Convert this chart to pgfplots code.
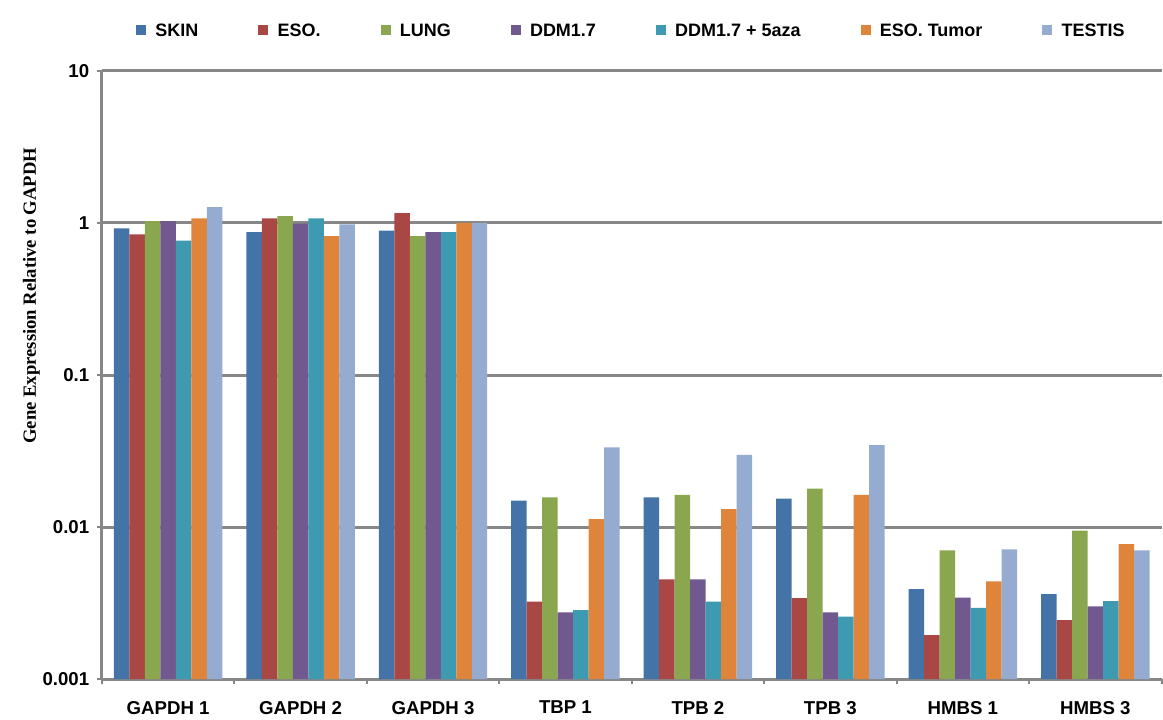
\documentclass[border=0pt]{standalone}
\usepackage{fontspec}
\setmainfont{Liberation Sans}
\newfontfamily\timesfont{Liberation Serif}
\usepackage{pgfplots}
\usepackage{pgfplotstable}
\pgfplotsset{compat=1.18}

\definecolor{skin}{HTML}{4473A7}
\definecolor{eso}{HTML}{A94744}
\definecolor{lung}{HTML}{8AA64F}
\definecolor{ddm}{HTML}{71598F}
\definecolor{aza}{HTML}{3E9AB1}
\definecolor{tumor}{HTML}{DF843B}
\definecolor{testis}{HTML}{95ABCF}
\definecolor{axisgray}{HTML}{878787}

% relative expression, one row per primer set
\pgfplotstableread{
x skin eso lung ddm aza tumor testis
0 0.92 0.84 1.03 1.03 0.765 1.07 1.27
1 0.87 1.07 1.11 0.99 1.07 0.82 0.98
2 0.89 1.16 0.82 0.87 0.87 1.00 1.00
3 0.0149 0.00324 0.0157 0.00275 0.00284 0.0113 0.0334
4 0.0157 0.00453 0.0163 0.00453 0.00324 0.0131 0.0299
5 0.0154 0.00341 0.0179 0.00275 0.00258 0.0163 0.0346
6 0.00391 0.00195 0.00703 0.00343 0.00294 0.00440 0.00713
7 0.00362 0.00244 0.00946 0.00301 0.00326 0.00773 0.00703
}\data

\pgfplotsset{
  sq/.style={fill=#1, draw=none,
    legend image code/.code={\fill[##1] (0pt,-3.2pt) rectangle (7.5pt,4.3pt);}},
}

\begin{document}
\begin{tikzpicture}
\begin{axis}[
  scale only axis,
  width=795.75pt, height=456.75pt,
  ymode=log, ymin=0.001, ymax=10, log origin y=infty,
  xmin=-0.5, xmax=7.5,
  ybar=0pt, bar width=0.117,
  xtick={-0.5,0.5,...,7.5},
  x tick label as interval,
  xticklabels={GAPDH 1,GAPDH 2,GAPDH 3,TBP 1,TPB 2,TPB 3,HMBS 1,HMBS 3},
  ytick={0.001,0.01,0.1,1,10},
  yticklabels={0.001,0.01,0.1,1,10},
  yminorticks=false,
  axis x line*=bottom, axis y line*=left,
  axis line style={-, axisgray, line width=2.25pt},
  tick align=outside, major tick length=4pt,
  tick style={axisgray, line width=1.5pt},
  ymajorgrids,
  major grid style={axisgray, line width=2.25pt},
  ticklabel style={font=\bfseries\fontsize{14}{14}\selectfont},
  xticklabel style={yshift=-9pt},
  yticklabel style={xshift=-2pt},
  legend columns=7,
  legend style={draw=none, fill=none, at={(0.5,1)}, anchor=center, yshift=30pt,
    font=\bfseries\fontsize{13.5}{14}\selectfont,
    /tikz/every odd column/.append style={column sep=5pt},
    /tikz/every even column/.append style={column sep=43pt}},
]
\addplot[sq=skin] table[x=x, y=skin] {\data};
\addplot[sq=eso] table[x=x, y=eso] {\data};
\addplot[sq=lung] table[x=x, y=lung] {\data};
\addplot[sq=ddm] table[x=x, y=ddm] {\data};
\addplot[sq=aza] table[x=x, y=aza] {\data};
\addplot[sq=tumor] table[x=x, y=tumor] {\data};
\addplot[sq=testis] table[x=x, y=testis] {\data};
\legend{SKIN,ESO.,LUNG,DDM1.7,DDM1.7 + 5aza,ESO. Tumor,TESTIS}
\end{axis}
\node[rotate=90, font=\timesfont\bfseries\fontsize{14}{14}\selectfont] at (-53pt,288pt)
  {Gene Expression Relative to GAPDH};
\path (-76.5pt,-30pt) rectangle (795.75pt,510pt);
\end{tikzpicture}
\end{document}
